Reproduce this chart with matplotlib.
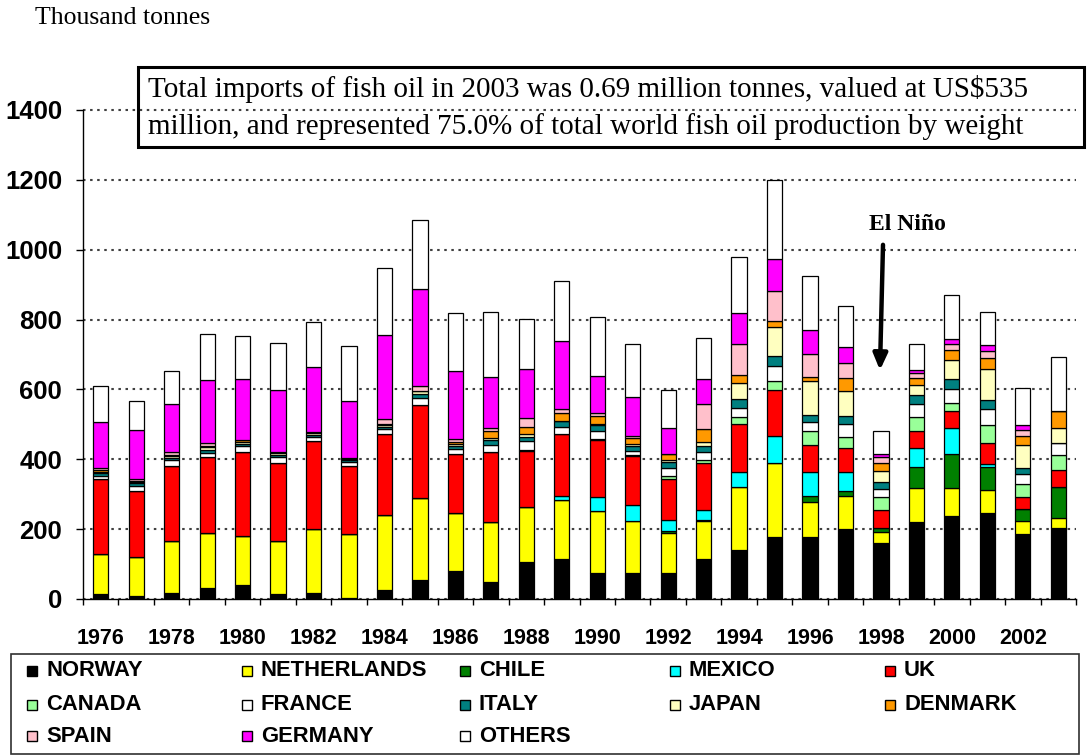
import matplotlib
matplotlib.use('Agg')
import matplotlib.pyplot as plt
import numpy as np
from matplotlib.patches import Rectangle

plt.rcParams['font.family'] = ['Liberation Sans', 'DejaVu Sans']

years = list(range(1976, 2004))

norway = [13, 9, 18, 31, 40, 15, 18, 4, 27, 53, 79, 48, 105, 115, 74, 74, 74, 115, 139, 177, 177, 201, 160, 220, 238, 247, 187, 203]
netherlands = [115, 110, 147, 157, 139, 152, 183, 181, 214, 236, 167, 172, 158, 169, 179, 149, 114, 108, 183, 213, 102, 95, 33, 97, 80, 66, 36, 28]
chile = [0, 0, 0, 0, 0, 0, 0, 0, 0, 0, 0, 0, 0, 0, 0, 0, 8, 3, 0, 0, 17, 13, 11, 60, 98, 66, 35, 91]
mexico = [0, 0, 0, 0, 0, 0, 0, 0, 0, 0, 0, 0, 0, 12, 38, 47, 29, 28, 43, 78, 69, 56, 0, 56, 73, 8, 0, 0]
uk = [215, 190, 217, 219, 241, 223, 250, 197, 232, 267, 170, 200, 162, 177, 165, 138, 119, 134, 136, 131, 77, 68, 52, 49, 48, 60, 35, 48]
canada = [0, 0, 0, 0, 0, 0, 0, 0, 0, 0, 0, 0, 2, 0, 3, 3, 9, 9, 19, 24, 40, 30, 35, 38, 25, 52, 36, 41]
france = [10, 15, 16, 12, 17, 16, 12, 10, 14, 19, 13, 21, 24, 19, 22, 14, 23, 23, 28, 43, 26, 38, 25, 38, 39, 46, 30, 35]
italy = [7, 7, 6, 8, 7, 6, 6, 5, 5, 12, 10, 15, 12, 19, 17, 14, 15, 19, 24, 31, 20, 23, 18, 26, 29, 24, 17, 0]
japan = [4, 4, 4, 8, 5, 5, 5, 4, 5, 8, 5, 5, 10, 0, 4, 4, 7, 11, 46, 81, 95, 72, 32, 29, 53, 89, 64, 43]
denmark = [4, 3, 4, 4, 5, 5, 5, 0, 4, 0, 5, 20, 19, 22, 22, 18, 17, 36, 23, 17, 12, 38, 24, 21, 30, 31, 27, 49]
spain = [7, 5, 9, 7, 0, 0, 0, 3, 15, 16, 10, 8, 27, 11, 8, 6, 0, 72, 89, 86, 65, 43, 16, 12, 18, 20, 16, 0]
germany = [132, 141, 137, 182, 175, 175, 186, 164, 241, 277, 195, 147, 139, 195, 107, 112, 74, 73, 90, 91, 71, 45, 10, 10, 14, 19, 14, 0]
others = [103, 83, 95, 132, 124, 135, 129, 156, 191, 197, 164, 186, 144, 170, 167, 152, 109, 117, 159, 229, 155, 116, 66, 75, 125, 95, 106, 156]

series_names = ['NORWAY', 'NETHERLANDS', 'CHILE', 'MEXICO', 'UK',
                'CANADA', 'FRANCE', 'ITALY', 'JAPAN', 'DENMARK',
                'SPAIN', 'GERMANY', 'OTHERS']
series_values = [norway, netherlands, chile, mexico, uk, canada, france,
                 italy, japan, denmark, spain, germany, others]
colors = ['#000000', '#FFFF00', '#008000', '#00FFFF', '#FF0000',
          '#99FF99', '#FFFFFF', '#008080', '#FFFFC0', '#FF9900',
          '#FFC0CB', '#FF00FF', '#FFFFFF']

y_ticks = [0, 200, 400, 600, 800, 1000, 1200, 1400]
x_label_years = years[::2]

note_line1 = "Total imports of fish oil in 2003 was 0.69 million tonnes, valued at US$535"
note_line2 = "million, and represented 75.0% of total world fish oil production by weight"

W, H = 1089, 755
fig = plt.figure(figsize=(W / 100, H / 100), dpi=100)


def fx(px):
    return px / W


def fy(py):
    return 1 - py / H


ytop = 1405
ppu = (599 - 110) / 1400.0
ax_top_px = 599 - ytop * ppu
ax = fig.add_axes([fx(83), fy(599), fx(1076) - fx(83), fy(ax_top_px) - fy(599)])

x = np.arange(len(years))
bottom = np.zeros(len(years))
for name, vals, col in zip(series_names, series_values, colors):
    v = np.array(vals, dtype=float)
    ax.bar(x, v, 0.43, bottom=bottom, color=col, edgecolor='black',
           linewidth=0.9, zorder=3)
    bottom += v

ax.set_xlim(-0.5, len(years) - 0.5)
ax.set_ylim(0, ytop)
ax.spines['top'].set_visible(False)
ax.spines['right'].set_visible(False)
ax.spines['left'].set_bounds(0, 1400)
for s in ('left', 'bottom'):
    ax.spines[s].set_linewidth(1.0)
    ax.spines[s].set_color('black')

ax.set_yticks(y_ticks)
ax.set_yticklabels([str(t) for t in y_ticks], fontsize=18.5, fontweight='bold')
ax.tick_params(axis='y', direction='out', length=5, width=1, pad=10)
ax.yaxis.grid(True, linestyle=(0, (1.2, 2.2)), color='#404040', linewidth=1.5, zorder=1)
ax.set_axisbelow(True)

ax.set_xticks([years.index(y) for y in x_label_years])
ax.set_xticklabels([str(y) for y in x_label_years], fontsize=15.5, fontweight='bold')
ax.tick_params(axis='x', which='major', length=0, pad=21)
ax.set_xticks(np.arange(-0.5, len(years), 1.0), minor=True)
ax.tick_params(axis='x', which='minor', direction='out', length=4.5, width=1)

# Unit label
fig.text(fx(35), fy(24), "Thousand tonnes", family=['Liberation Serif'],
         fontsize=18.5, ha='left', va='baseline')

# Note box
fig.patches.append(Rectangle((fx(138.3), fy(147.3)), fx(1084) - fx(138.3),
                             fy(66.7) - fy(147.3), transform=fig.transFigure,
                             fill=False, edgecolor='black', linewidth=2.2))
fig.text(fx(148), fy(96.7), note_line1, family=['Liberation Serif'],
         fontsize=21, ha='left', va='baseline')
fig.text(fx(148), fy(134), note_line2, family=['Liberation Serif'],
         fontsize=21, ha='left', va='baseline')

# El Nino annotation
i98 = years.index(1998)
fig.text(fx(907), fy(225), "El Niño", family=['Liberation Serif'],
         fontsize=17, fontweight='bold', ha='center', va='center')
ax.annotate('', xy=(i98 - 0.03, 647), xytext=(i98 + 0.06, 1022),
            arrowprops=dict(arrowstyle='-|>,head_length=0.8,head_width=0.35',
                            mutation_scale=12, lw=3.2, color='black'),
            zorder=5)

# Legend box
fig.patches.append(Rectangle((fx(10.7), fy(754)), fx(1079) - fx(10.7),
                             fy(654) - fy(754), transform=fig.transFigure,
                             fill=False, edgecolor='#303030', linewidth=1.2))
row_y = [671, 705, 736]
col_x = [27, 242, 460, 670, 885]
for i, (name, col) in enumerate(zip(series_names, colors)):
    r, c = divmod(i, 5)
    mx, my = col_x[c], row_y[r]
    fig.patches.append(Rectangle((fx(mx), fy(my + 5)), fx(10), 10 / H,
                                 transform=fig.transFigure, facecolor=col,
                                 edgecolor='black', linewidth=1.0))
    fig.text(fx(mx + 19), fy(my), name, fontsize=15.8, fontweight='bold',
             ha='left', va='center')

fig.savefig('out.png', dpi=100)
